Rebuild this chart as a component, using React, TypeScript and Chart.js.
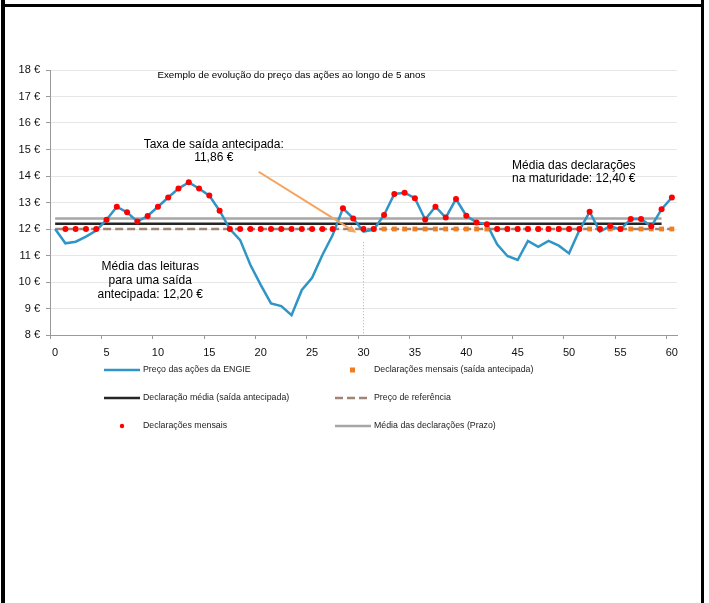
import React, { useEffect, useRef } from 'react';
import { Chart, registerables } from 'chart.js';

Chart.register(...registerables);

// ---------- data ----------
const months: string[] = Array.from({ length: 61 }, (_, i) => String(i));

const sharePrice: number[] = [
  12.0, 11.46, 11.52, 11.71, 11.94, 12.35, 12.84, 12.63, 12.28, 12.49, 12.84,
  13.19, 13.53, 13.76, 13.53, 13.26, 12.69, 12.0, 11.58, 10.64, 9.89,
  9.19, 9.09, 8.75, 9.7, 10.16, 11.02, 11.77, 12.78, 12.4, 11.9,
  11.98, 12.53, 13.32, 13.37, 13.16, 12.36, 12.84, 12.43, 13.13, 12.5,
  12.25, 12.18, 11.42, 10.98, 10.83, 11.55, 11.33, 11.55, 11.37, 11.08,
  11.95, 12.65, 11.9, 12.11, 11.98, 12.38, 12.38, 12.1, 12.75, 13.19,
];

const monthlyDeclarations: (number | null)[] = [
  null, 12, 12, 12, 12, 12.35, 12.84, 12.63, 12.28, 12.49, 12.84,
  13.19, 13.53, 13.76, 13.53, 13.26, 12.69, 12, 12, 12, 12,
  12, 12, 12, 12, 12, 12, 12, 12.78, 12.4, 12,
  12, 12.53, 13.32, 13.37, 13.16, 12.36, 12.84, 12.43, 13.13, 12.5,
  12.25, 12.18, 12, 12, 12, 12, 12, 12, 12, 12,
  12, 12.65, 12, 12.11, 12, 12.38, 12.38, 12.1, 12.75, 13.19,
];

const earlyExitDeclarations: (number | null)[] = [
  null, null, null, null, null, null, null, null, null, null, null,
  null, null, null, null, null, null, null, null, null, null,
  null, null, null, null, null, null, null, null, null, null,
  12, 12, 12, 12, 12, 12, 12, 12, 12, 12,
  12, 12, 12, 12, 12, 12, 12, 12, 12, 12,
  12, 12, 12, 12, 12, 12, 12, 12, 12, 12,
];

const referencePrice = 12.0;
const earlyExitAverage = 12.2;
const maturityAverage = 12.4;
const earlyExitRate = 11.86;
const exitMonth = '30';
const firstMonth = '0';
const lastAverageMonth = '59';
const lastMonth = '60';

const yMin = 8;
const yMax = 18;

const titleText = 'Exemplo de evolução do preço das ações ao longo de 5 anos';
const exitRateText = ['Taxa de saída antecipada:', '11,86 €'];
const maturityText = ['Média das declarações', 'na maturidade: 12,40 €'];
const earlyAvgText = ['Média das leituras', 'para uma saída', 'antecipada: 12,20 €'];

const seriesNames = {
  price: 'Preço das ações da ENGIE',
  earlyDecl: 'Declarações mensais (saída antecipada)',
  earlyAvg: 'Declaração média (saída antecipada)',
  reference: 'Preço de referência',
  monthly: 'Declarações mensais',
  maturityAvg: 'Média das declarações (Prazo)',
};

// ---------- styles ----------
const FONT = "'Liberation Sans', Arial, Helvetica, sans-serif";
const BLUE = '#2f95c6';
const RED = '#ff0000';
const ORANGE = '#f07d22';
const BLACK = '#262626';
const GRAY = '#a6a6a6';
const BROWN = '#a08575';
const ARROW = '#f5a25e';
const EXIT_LINE = '#f39a5a';

const annotationPlugin = {
  id: 'annotationTexts',
  afterDatasetsDraw(chart: any) {
    const { ctx } = chart;
    const xs = chart.scales.x;
    const ys = chart.scales.y;
    const px = (v: number) => xs.getPixelForValue(v);
    const py = (v: number) => ys.getPixelForValue(v);
    ctx.save();

    // arrow towards the early exit rate
    const x1 = px(19.8), y1 = py(14.16);
    const x2 = px(29.3), y2 = py(earlyExitRate);
    const ang = Math.atan2(y2 - y1, x2 - x1);
    const head = 9;
    ctx.strokeStyle = ARROW;
    ctx.fillStyle = ARROW;
    ctx.lineWidth = 2;
    ctx.beginPath();
    ctx.moveTo(x1, y1);
    ctx.lineTo(x2 - head * 0.8 * Math.cos(ang), y2 - head * 0.8 * Math.sin(ang));
    ctx.stroke();
    ctx.beginPath();
    ctx.moveTo(x2, y2);
    ctx.lineTo(x2 - head * Math.cos(ang - 0.42), y2 - head * Math.sin(ang - 0.42));
    ctx.lineTo(x2 - head * Math.cos(ang + 0.42), y2 - head * Math.sin(ang + 0.42));
    ctx.closePath();
    ctx.fill();

    ctx.fillStyle = '#000';
    ctx.textBaseline = 'middle';

    // title
    ctx.font = `9.8px ${FONT}`;
    ctx.textAlign = 'left';
    ctx.fillText(titleText, px(9.95), py(17.81));

    ctx.font = `12px ${FONT}`;
    ctx.textAlign = 'center';
    ctx.fillText(exitRateText[0], px(15.43), py(15.19));
    ctx.fillText(exitRateText[1], px(15.43), py(14.7));

    ctx.fillText(maturityText[0], px(50.46), py(14.39));
    ctx.fillText(maturityText[1], px(50.46), py(13.88));

    ctx.fillText(earlyAvgText[0], px(9.25), py(10.58));
    ctx.fillText(earlyAvgText[1], px(9.25), py(10.05));
    ctx.fillText(earlyAvgText[2], px(9.25), py(9.54));

    ctx.restore();
  },
};

const legendPlugin = {
  id: 'customLegend',
  afterDraw(chart: any) {
    const { ctx } = chart;
    ctx.save();
    const rows = [370, 398, 426];
    const c1 = { x0: 104, x1: 140, tx: 143 };
    const c2 = { x0: 335, x1: 371, tx: 374 };

    const line = (c: any, y: number, color: string, w: number, dash: number[]) => {
      ctx.strokeStyle = color;
      ctx.lineWidth = w;
      ctx.setLineDash(dash);
      ctx.beginPath();
      ctx.moveTo(c.x0, y);
      ctx.lineTo(c.x1, y);
      ctx.stroke();
      ctx.setLineDash([]);
    };

    line(c1, rows[0], BLUE, 2.5, []);
    ctx.fillStyle = ORANGE;
    ctx.fillRect(352.5 - 2.5, rows[0] - 2.5, 5, 5);
    line(c1, rows[1], BLACK, 2.5, []);
    line(c2, rows[1], BROWN, 2.5, [8, 4]);
    ctx.fillStyle = RED;
    ctx.beginPath();
    ctx.arc(122, rows[2], 2.2, 0, Math.PI * 2);
    ctx.fill();
    line(c2, rows[2], GRAY, 2.5, []);

    ctx.fillStyle = '#222';
    ctx.font = `8.8px ${FONT}`;
    ctx.textAlign = 'left';
    ctx.textBaseline = 'middle';
    ctx.fillText(seriesNames.price, c1.tx, rows[0]);
    ctx.fillText(seriesNames.earlyDecl, c2.tx, rows[0]);
    ctx.fillText(seriesNames.earlyAvg, c1.tx, rows[1]);
    ctx.fillText(seriesNames.reference, c2.tx, rows[1]);
    ctx.fillText(seriesNames.monthly, c1.tx, rows[2]);
    ctx.fillText(seriesNames.maturityAvg, c2.tx, rows[2]);
    ctx.restore();
  },
};

export default function App() {
  const canvasRef = useRef<HTMLCanvasElement | null>(null);

  useEffect(() => {
    if (!canvasRef.current) return;
    Chart.defaults.font.family = FONT;
    const chart = new Chart(canvasRef.current, {
      type: 'line',
      data: {
        labels: months,
        datasets: [
          {
            label: seriesNames.monthly,
            data: monthlyDeclarations,
            showLine: false,
            pointStyle: 'circle',
            pointRadius: 3,
            pointBackgroundColor: RED,
            pointBorderColor: RED,
            pointBorderWidth: 0,
            order: 0,
          },
          {
            label: seriesNames.earlyDecl,
            data: earlyExitDeclarations,
            showLine: false,
            pointStyle: 'rect',
            pointRadius: 3.4,
            pointBackgroundColor: ORANGE,
            pointBorderColor: ORANGE,
            pointBorderWidth: 0,
            order: 1,
          },
          {
            label: seriesNames.price,
            data: sharePrice,
            borderColor: BLUE,
            borderWidth: 2.5,
            pointRadius: 0,
            tension: 0,
            order: 2,
          },
          {
            label: seriesNames.reference,
            data: [
              { x: firstMonth, y: referencePrice },
              { x: lastMonth, y: referencePrice },
            ],
            borderColor: BROWN,
            borderWidth: 2.5,
            borderDash: [8, 4],
            pointRadius: 0,
            order: 3,
          },
          {
            label: seriesNames.earlyAvg,
            data: [
              { x: firstMonth, y: earlyExitAverage },
              { x: lastAverageMonth, y: earlyExitAverage },
            ],
            borderColor: BLACK,
            borderWidth: 2.5,
            pointRadius: 0,
            order: 4,
          },
          {
            label: seriesNames.maturityAvg,
            data: [
              { x: firstMonth, y: maturityAverage },
              { x: lastAverageMonth, y: maturityAverage },
            ],
            borderColor: GRAY,
            borderWidth: 2.5,
            pointRadius: 0,
            order: 5,
          },
          {
            label: 'Saída',
            data: [
              { x: exitMonth, y: 11.5 },
              { x: exitMonth, y: yMin },
            ],
            borderColor: EXIT_LINE,
            borderWidth: 1,
            borderDash: [1, 2],
            pointRadius: 0,
            order: 6,
          },
        ] as any,
      },
      options: {
        animation: false,
        responsive: false,
        maintainAspectRatio: false,
        layout: { padding: { left: 0, top: 70, right: 32, bottom: 240 } },
        plugins: {
          legend: { display: false },
          tooltip: { enabled: false },
          title: { display: false },
        },
        scales: {
          x: {
            type: 'category',
            offset: true,
            afterFit: (s: any) => {
              s.height = 28;
            },
            grid: {
              offset: true,
              drawOnChartArea: false,
              drawTicks: true,
              tickLength: 4,
              color: (c: any) => (c.index % 5 === 0 ? '#999999' : 'rgba(0,0,0,0)'),
            },
            border: { display: true, color: '#999999', width: 1 },
            ticks: {
              autoSkip: false,
              maxRotation: 0,
              minRotation: 0,
              padding: 7,
              color: '#111',
              font: { size: 11, family: FONT },
              callback: (_v: any, i: number) => (i % 5 === 0 ? months[i] : ''),
            },
          },
          y: {
            min: yMin,
            max: yMax,
            afterFit: (s: any) => {
              s.width = 50;
            },
            grid: {
              color: '#e6e6e6',
              lineWidth: 1,
              tickLength: 4,
              tickColor: '#999999',
            },
            border: { display: true, color: '#999999', width: 1 },
            ticks: {
              stepSize: 1,
              padding: 6,
              color: '#111',
              font: { size: 11, family: FONT },
              callback: (v: any) => `${v} €`,
            },
          },
        },
      } as any,
      plugins: [annotationPlugin, legendPlugin],
    });
    return () => chart.destroy();
  }, []);

  return (
    <div style={{ position: 'absolute', left: 0, top: 0, width: 709, height: 603, background: '#fff', overflow: 'hidden' }}>
      <canvas ref={canvasRef} width={709} height={603} style={{ position: 'absolute', left: 0, top: 0, width: 709, height: 603 }} />
      <div style={{ position: 'absolute', left: 1, top: 4, width: 703, height: 3, background: '#000' }} />
      <div style={{ position: 'absolute', left: 1, top: 0, width: 4, height: 603, background: '#000' }} />
      <div style={{ position: 'absolute', left: 701, top: 0, width: 3, height: 603, background: '#000' }} />
    </div>
  );
}
